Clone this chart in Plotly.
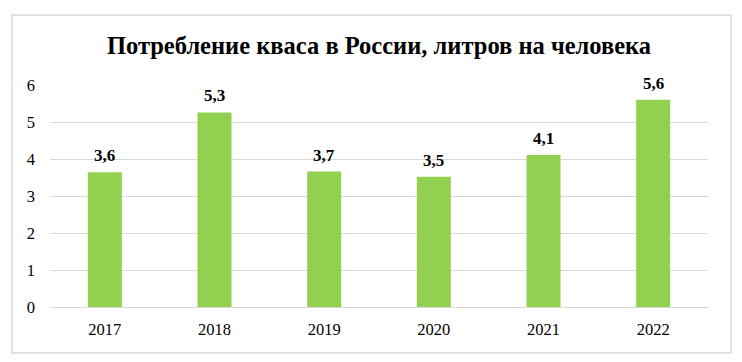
import plotly.graph_objects as go

years = ["2017", "2018", "2019", "2020", "2021", "2022"]
values = [3.64, 5.26, 3.66, 3.52, 4.11, 5.6]
y_ticks = [0, 1, 2, 3, 4, 5, 6]

# page body has an 8px margin, so the figure is drawn 8px smaller
OFF = 8
W, H = 742 - OFF, 362 - OFF
L, R, T, B = 50 - OFF, W - (708 - OFF), 85 - OFF, H - (307 - OFF)

fig = go.Figure()
fig.add_trace(go.Bar(
    x=years, y=values,
    marker=dict(color="#92d050", line=dict(width=0)),
    width=0.31,
    hoverinfo="skip",
))

for i, v in enumerate(values):
    fig.add_annotation(
        x=i, y=v, xref="x", yref="y",
        text="<b>" + f"{v:.1f}".replace(".", ",") + "</b>",
        showarrow=False, yanchor="bottom", yshift=5,
        font=dict(family="Liberation Serif", size=17, color="#000000"),
    )

pw = W - L - R
ph = H - T - B
fig.add_shape(
    type="rect", xref="paper", yref="paper",
    x0=(12 - OFF - L) / pw, x1=(731 - OFF - L) / pw,
    y0=(H - B - (353 - OFF)) / ph, y1=(H - B - (15 - OFF)) / ph,
    line=dict(color="#d9d9d9", width=1.5), fillcolor="rgba(0,0,0,0)",
    layer="below",
)

fig.update_layout(
    width=W, height=H,
    margin=dict(l=L, r=R, t=T, b=B),
    paper_bgcolor="white", plot_bgcolor="white",
    showlegend=False,
    title=dict(
        text="<b>Потребление кваса в России, литров на человека</b>",
        x=0.5, xanchor="center", xref="paper",
        y=1 - (45 - OFF) / H, yref="container", yanchor="middle",
        font=dict(family="Liberation Serif", size=24.5, color="#000000"),
    ),
    xaxis=dict(
        type="category", range=[-0.5, 5.5],
        showgrid=False, zeroline=False, showline=False,
        ticks="outside", ticklen=7, tickcolor="rgba(0,0,0,0)",
        tickfont=dict(family="Liberation Serif", size=16.5, color="#000000"),
    ),
    yaxis=dict(
        range=[0, 6], tickvals=y_ticks,
        showgrid=True, gridcolor="#d9d9d9", gridwidth=1.3,
        zeroline=True, zerolinecolor="#d9d9d9", zerolinewidth=1.3,
        showline=False,
        ticklabelstandoff=14,
        tickfont=dict(family="Liberation Serif", size=16.5, color="#000000"),
    ),
)

fig.write_html("out.html")
